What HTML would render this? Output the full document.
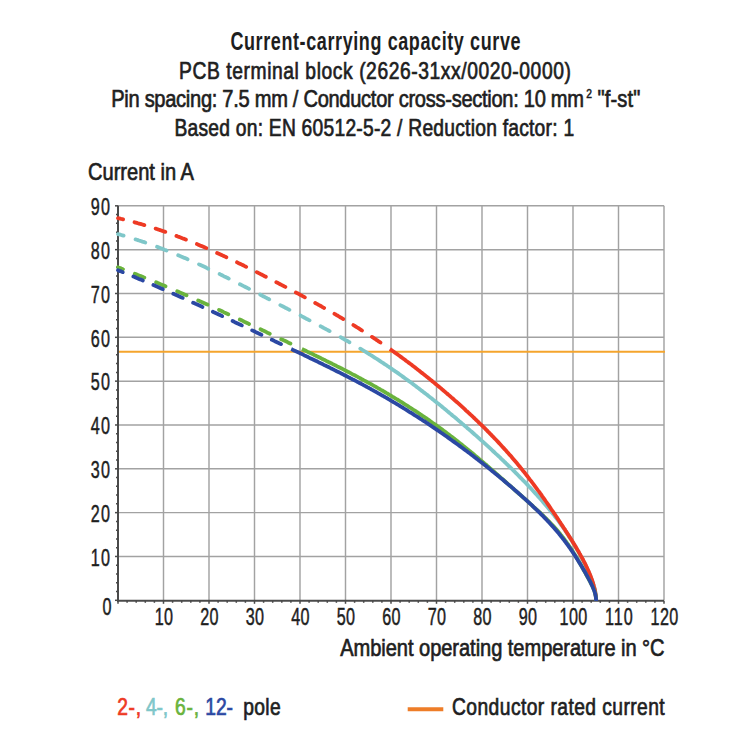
<!DOCTYPE html>
<html><head><meta charset="utf-8"><style>
html,body{margin:0;padding:0;background:#fff;width:750px;height:750px;overflow:hidden}
svg{display:block;font-family:"Liberation Sans",sans-serif}
</style></head><body>
<svg width="750" height="750" viewBox="0 0 750 750">
<rect width="750" height="750" fill="#fff"/>
<line x1="163.50" y1="205.83" x2="163.50" y2="600.30" stroke="#a2a2a2" stroke-width="1.45"/>
<line x1="209.00" y1="205.83" x2="209.00" y2="600.30" stroke="#a2a2a2" stroke-width="1.45"/>
<line x1="254.50" y1="205.83" x2="254.50" y2="600.30" stroke="#a2a2a2" stroke-width="1.45"/>
<line x1="300.00" y1="205.83" x2="300.00" y2="600.30" stroke="#a2a2a2" stroke-width="1.45"/>
<line x1="345.50" y1="205.83" x2="345.50" y2="600.30" stroke="#a2a2a2" stroke-width="1.45"/>
<line x1="391.00" y1="205.83" x2="391.00" y2="600.30" stroke="#a2a2a2" stroke-width="1.45"/>
<line x1="436.50" y1="205.83" x2="436.50" y2="600.30" stroke="#a2a2a2" stroke-width="1.45"/>
<line x1="482.00" y1="205.83" x2="482.00" y2="600.30" stroke="#a2a2a2" stroke-width="1.45"/>
<line x1="527.50" y1="205.83" x2="527.50" y2="600.30" stroke="#a2a2a2" stroke-width="1.45"/>
<line x1="573.00" y1="205.83" x2="573.00" y2="600.30" stroke="#a2a2a2" stroke-width="1.45"/>
<line x1="618.50" y1="205.83" x2="618.50" y2="600.30" stroke="#a2a2a2" stroke-width="1.45"/>
<line x1="664.00" y1="205.83" x2="664.00" y2="600.30" stroke="#a2a2a2" stroke-width="1.45"/>
<line x1="118.00" y1="556.47" x2="664.00" y2="556.47" stroke="#a2a2a2" stroke-width="1.45"/>
<line x1="118.00" y1="512.64" x2="664.00" y2="512.64" stroke="#a2a2a2" stroke-width="1.45"/>
<line x1="118.00" y1="468.81" x2="664.00" y2="468.81" stroke="#a2a2a2" stroke-width="1.45"/>
<line x1="118.00" y1="424.98" x2="664.00" y2="424.98" stroke="#a2a2a2" stroke-width="1.45"/>
<line x1="118.00" y1="381.15" x2="664.00" y2="381.15" stroke="#a2a2a2" stroke-width="1.45"/>
<line x1="118.00" y1="337.32" x2="664.00" y2="337.32" stroke="#a2a2a2" stroke-width="1.45"/>
<line x1="118.00" y1="293.49" x2="664.00" y2="293.49" stroke="#a2a2a2" stroke-width="1.45"/>
<line x1="118.00" y1="249.66" x2="664.00" y2="249.66" stroke="#a2a2a2" stroke-width="1.45"/>
<line x1="118.00" y1="205.83" x2="664.00" y2="205.83" stroke="#a2a2a2" stroke-width="1.45"/>
<line x1="118.00" y1="351.7" x2="665.00" y2="351.7" stroke="#f5a52c" stroke-width="2.1"/>
<line x1="118.00" y1="205.83" x2="118.00" y2="601.80" stroke="#4a4a4a" stroke-width="2"/>
<line x1="117.00" y1="600.80" x2="664.00" y2="600.80" stroke="#4a4a4a" stroke-width="2"/>
<line x1="115.00" y1="600.30" x2="118.00" y2="600.30" stroke="#4a4a4a" stroke-width="1.5"/>
<line x1="116.00" y1="591.53" x2="118.00" y2="591.53" stroke="#4a4a4a" stroke-width="1.5"/>
<line x1="116.00" y1="582.77" x2="118.00" y2="582.77" stroke="#4a4a4a" stroke-width="1.5"/>
<line x1="116.00" y1="574.00" x2="118.00" y2="574.00" stroke="#4a4a4a" stroke-width="1.5"/>
<line x1="116.00" y1="565.24" x2="118.00" y2="565.24" stroke="#4a4a4a" stroke-width="1.5"/>
<line x1="115.00" y1="556.47" x2="118.00" y2="556.47" stroke="#4a4a4a" stroke-width="1.5"/>
<line x1="116.00" y1="547.70" x2="118.00" y2="547.70" stroke="#4a4a4a" stroke-width="1.5"/>
<line x1="116.00" y1="538.94" x2="118.00" y2="538.94" stroke="#4a4a4a" stroke-width="1.5"/>
<line x1="116.00" y1="530.17" x2="118.00" y2="530.17" stroke="#4a4a4a" stroke-width="1.5"/>
<line x1="116.00" y1="521.41" x2="118.00" y2="521.41" stroke="#4a4a4a" stroke-width="1.5"/>
<line x1="115.00" y1="512.64" x2="118.00" y2="512.64" stroke="#4a4a4a" stroke-width="1.5"/>
<line x1="116.00" y1="503.87" x2="118.00" y2="503.87" stroke="#4a4a4a" stroke-width="1.5"/>
<line x1="116.00" y1="495.11" x2="118.00" y2="495.11" stroke="#4a4a4a" stroke-width="1.5"/>
<line x1="116.00" y1="486.34" x2="118.00" y2="486.34" stroke="#4a4a4a" stroke-width="1.5"/>
<line x1="116.00" y1="477.58" x2="118.00" y2="477.58" stroke="#4a4a4a" stroke-width="1.5"/>
<line x1="115.00" y1="468.81" x2="118.00" y2="468.81" stroke="#4a4a4a" stroke-width="1.5"/>
<line x1="116.00" y1="460.04" x2="118.00" y2="460.04" stroke="#4a4a4a" stroke-width="1.5"/>
<line x1="116.00" y1="451.28" x2="118.00" y2="451.28" stroke="#4a4a4a" stroke-width="1.5"/>
<line x1="116.00" y1="442.51" x2="118.00" y2="442.51" stroke="#4a4a4a" stroke-width="1.5"/>
<line x1="116.00" y1="433.75" x2="118.00" y2="433.75" stroke="#4a4a4a" stroke-width="1.5"/>
<line x1="115.00" y1="424.98" x2="118.00" y2="424.98" stroke="#4a4a4a" stroke-width="1.5"/>
<line x1="116.00" y1="416.21" x2="118.00" y2="416.21" stroke="#4a4a4a" stroke-width="1.5"/>
<line x1="116.00" y1="407.45" x2="118.00" y2="407.45" stroke="#4a4a4a" stroke-width="1.5"/>
<line x1="116.00" y1="398.68" x2="118.00" y2="398.68" stroke="#4a4a4a" stroke-width="1.5"/>
<line x1="116.00" y1="389.92" x2="118.00" y2="389.92" stroke="#4a4a4a" stroke-width="1.5"/>
<line x1="115.00" y1="381.15" x2="118.00" y2="381.15" stroke="#4a4a4a" stroke-width="1.5"/>
<line x1="116.00" y1="372.38" x2="118.00" y2="372.38" stroke="#4a4a4a" stroke-width="1.5"/>
<line x1="116.00" y1="363.62" x2="118.00" y2="363.62" stroke="#4a4a4a" stroke-width="1.5"/>
<line x1="116.00" y1="354.85" x2="118.00" y2="354.85" stroke="#4a4a4a" stroke-width="1.5"/>
<line x1="116.00" y1="346.09" x2="118.00" y2="346.09" stroke="#4a4a4a" stroke-width="1.5"/>
<line x1="115.00" y1="337.32" x2="118.00" y2="337.32" stroke="#4a4a4a" stroke-width="1.5"/>
<line x1="116.00" y1="328.55" x2="118.00" y2="328.55" stroke="#4a4a4a" stroke-width="1.5"/>
<line x1="116.00" y1="319.79" x2="118.00" y2="319.79" stroke="#4a4a4a" stroke-width="1.5"/>
<line x1="116.00" y1="311.02" x2="118.00" y2="311.02" stroke="#4a4a4a" stroke-width="1.5"/>
<line x1="116.00" y1="302.26" x2="118.00" y2="302.26" stroke="#4a4a4a" stroke-width="1.5"/>
<line x1="115.00" y1="293.49" x2="118.00" y2="293.49" stroke="#4a4a4a" stroke-width="1.5"/>
<line x1="116.00" y1="284.72" x2="118.00" y2="284.72" stroke="#4a4a4a" stroke-width="1.5"/>
<line x1="116.00" y1="275.96" x2="118.00" y2="275.96" stroke="#4a4a4a" stroke-width="1.5"/>
<line x1="116.00" y1="267.19" x2="118.00" y2="267.19" stroke="#4a4a4a" stroke-width="1.5"/>
<line x1="116.00" y1="258.43" x2="118.00" y2="258.43" stroke="#4a4a4a" stroke-width="1.5"/>
<line x1="115.00" y1="249.66" x2="118.00" y2="249.66" stroke="#4a4a4a" stroke-width="1.5"/>
<line x1="116.00" y1="240.89" x2="118.00" y2="240.89" stroke="#4a4a4a" stroke-width="1.5"/>
<line x1="116.00" y1="232.13" x2="118.00" y2="232.13" stroke="#4a4a4a" stroke-width="1.5"/>
<line x1="116.00" y1="223.36" x2="118.00" y2="223.36" stroke="#4a4a4a" stroke-width="1.5"/>
<line x1="116.00" y1="214.60" x2="118.00" y2="214.60" stroke="#4a4a4a" stroke-width="1.5"/>
<line x1="115.00" y1="205.83" x2="118.00" y2="205.83" stroke="#4a4a4a" stroke-width="1.5"/>
<line x1="118.00" y1="600.80" x2="118.00" y2="603.80" stroke="#4a4a4a" stroke-width="1.5"/>
<line x1="127.10" y1="600.80" x2="127.10" y2="602.80" stroke="#4a4a4a" stroke-width="1.5"/>
<line x1="136.20" y1="600.80" x2="136.20" y2="602.80" stroke="#4a4a4a" stroke-width="1.5"/>
<line x1="145.30" y1="600.80" x2="145.30" y2="602.80" stroke="#4a4a4a" stroke-width="1.5"/>
<line x1="154.40" y1="600.80" x2="154.40" y2="602.80" stroke="#4a4a4a" stroke-width="1.5"/>
<line x1="163.50" y1="600.80" x2="163.50" y2="603.80" stroke="#4a4a4a" stroke-width="1.5"/>
<line x1="172.60" y1="600.80" x2="172.60" y2="602.80" stroke="#4a4a4a" stroke-width="1.5"/>
<line x1="181.70" y1="600.80" x2="181.70" y2="602.80" stroke="#4a4a4a" stroke-width="1.5"/>
<line x1="190.80" y1="600.80" x2="190.80" y2="602.80" stroke="#4a4a4a" stroke-width="1.5"/>
<line x1="199.90" y1="600.80" x2="199.90" y2="602.80" stroke="#4a4a4a" stroke-width="1.5"/>
<line x1="209.00" y1="600.80" x2="209.00" y2="603.80" stroke="#4a4a4a" stroke-width="1.5"/>
<line x1="218.10" y1="600.80" x2="218.10" y2="602.80" stroke="#4a4a4a" stroke-width="1.5"/>
<line x1="227.20" y1="600.80" x2="227.20" y2="602.80" stroke="#4a4a4a" stroke-width="1.5"/>
<line x1="236.30" y1="600.80" x2="236.30" y2="602.80" stroke="#4a4a4a" stroke-width="1.5"/>
<line x1="245.40" y1="600.80" x2="245.40" y2="602.80" stroke="#4a4a4a" stroke-width="1.5"/>
<line x1="254.50" y1="600.80" x2="254.50" y2="603.80" stroke="#4a4a4a" stroke-width="1.5"/>
<line x1="263.60" y1="600.80" x2="263.60" y2="602.80" stroke="#4a4a4a" stroke-width="1.5"/>
<line x1="272.70" y1="600.80" x2="272.70" y2="602.80" stroke="#4a4a4a" stroke-width="1.5"/>
<line x1="281.80" y1="600.80" x2="281.80" y2="602.80" stroke="#4a4a4a" stroke-width="1.5"/>
<line x1="290.90" y1="600.80" x2="290.90" y2="602.80" stroke="#4a4a4a" stroke-width="1.5"/>
<line x1="300.00" y1="600.80" x2="300.00" y2="603.80" stroke="#4a4a4a" stroke-width="1.5"/>
<line x1="309.10" y1="600.80" x2="309.10" y2="602.80" stroke="#4a4a4a" stroke-width="1.5"/>
<line x1="318.20" y1="600.80" x2="318.20" y2="602.80" stroke="#4a4a4a" stroke-width="1.5"/>
<line x1="327.30" y1="600.80" x2="327.30" y2="602.80" stroke="#4a4a4a" stroke-width="1.5"/>
<line x1="336.40" y1="600.80" x2="336.40" y2="602.80" stroke="#4a4a4a" stroke-width="1.5"/>
<line x1="345.50" y1="600.80" x2="345.50" y2="603.80" stroke="#4a4a4a" stroke-width="1.5"/>
<line x1="354.60" y1="600.80" x2="354.60" y2="602.80" stroke="#4a4a4a" stroke-width="1.5"/>
<line x1="363.70" y1="600.80" x2="363.70" y2="602.80" stroke="#4a4a4a" stroke-width="1.5"/>
<line x1="372.80" y1="600.80" x2="372.80" y2="602.80" stroke="#4a4a4a" stroke-width="1.5"/>
<line x1="381.90" y1="600.80" x2="381.90" y2="602.80" stroke="#4a4a4a" stroke-width="1.5"/>
<line x1="391.00" y1="600.80" x2="391.00" y2="603.80" stroke="#4a4a4a" stroke-width="1.5"/>
<line x1="400.10" y1="600.80" x2="400.10" y2="602.80" stroke="#4a4a4a" stroke-width="1.5"/>
<line x1="409.20" y1="600.80" x2="409.20" y2="602.80" stroke="#4a4a4a" stroke-width="1.5"/>
<line x1="418.30" y1="600.80" x2="418.30" y2="602.80" stroke="#4a4a4a" stroke-width="1.5"/>
<line x1="427.40" y1="600.80" x2="427.40" y2="602.80" stroke="#4a4a4a" stroke-width="1.5"/>
<line x1="436.50" y1="600.80" x2="436.50" y2="603.80" stroke="#4a4a4a" stroke-width="1.5"/>
<line x1="445.60" y1="600.80" x2="445.60" y2="602.80" stroke="#4a4a4a" stroke-width="1.5"/>
<line x1="454.70" y1="600.80" x2="454.70" y2="602.80" stroke="#4a4a4a" stroke-width="1.5"/>
<line x1="463.80" y1="600.80" x2="463.80" y2="602.80" stroke="#4a4a4a" stroke-width="1.5"/>
<line x1="472.90" y1="600.80" x2="472.90" y2="602.80" stroke="#4a4a4a" stroke-width="1.5"/>
<line x1="482.00" y1="600.80" x2="482.00" y2="603.80" stroke="#4a4a4a" stroke-width="1.5"/>
<line x1="491.10" y1="600.80" x2="491.10" y2="602.80" stroke="#4a4a4a" stroke-width="1.5"/>
<line x1="500.20" y1="600.80" x2="500.20" y2="602.80" stroke="#4a4a4a" stroke-width="1.5"/>
<line x1="509.30" y1="600.80" x2="509.30" y2="602.80" stroke="#4a4a4a" stroke-width="1.5"/>
<line x1="518.40" y1="600.80" x2="518.40" y2="602.80" stroke="#4a4a4a" stroke-width="1.5"/>
<line x1="527.50" y1="600.80" x2="527.50" y2="603.80" stroke="#4a4a4a" stroke-width="1.5"/>
<line x1="536.60" y1="600.80" x2="536.60" y2="602.80" stroke="#4a4a4a" stroke-width="1.5"/>
<line x1="545.70" y1="600.80" x2="545.70" y2="602.80" stroke="#4a4a4a" stroke-width="1.5"/>
<line x1="554.80" y1="600.80" x2="554.80" y2="602.80" stroke="#4a4a4a" stroke-width="1.5"/>
<line x1="563.90" y1="600.80" x2="563.90" y2="602.80" stroke="#4a4a4a" stroke-width="1.5"/>
<line x1="573.00" y1="600.80" x2="573.00" y2="603.80" stroke="#4a4a4a" stroke-width="1.5"/>
<line x1="582.10" y1="600.80" x2="582.10" y2="602.80" stroke="#4a4a4a" stroke-width="1.5"/>
<line x1="591.20" y1="600.80" x2="591.20" y2="602.80" stroke="#4a4a4a" stroke-width="1.5"/>
<line x1="600.30" y1="600.80" x2="600.30" y2="602.80" stroke="#4a4a4a" stroke-width="1.5"/>
<line x1="609.40" y1="600.80" x2="609.40" y2="602.80" stroke="#4a4a4a" stroke-width="1.5"/>
<line x1="618.50" y1="600.80" x2="618.50" y2="603.80" stroke="#4a4a4a" stroke-width="1.5"/>
<line x1="627.60" y1="600.80" x2="627.60" y2="602.80" stroke="#4a4a4a" stroke-width="1.5"/>
<line x1="636.70" y1="600.80" x2="636.70" y2="602.80" stroke="#4a4a4a" stroke-width="1.5"/>
<line x1="645.80" y1="600.80" x2="645.80" y2="602.80" stroke="#4a4a4a" stroke-width="1.5"/>
<line x1="654.90" y1="600.80" x2="654.90" y2="602.80" stroke="#4a4a4a" stroke-width="1.5"/>
<line x1="664.00" y1="600.80" x2="664.00" y2="603.80" stroke="#4a4a4a" stroke-width="1.5"/>
<path d="M118.0,234.1 L119.1,234.4 L120.2,234.7 L121.3,235.0 L122.4,235.3 L123.5,235.6 L124.6,236.0 L125.8,236.3 L126.9,236.6 L128.0,236.9 L129.1,237.3 L130.2,237.6 L131.3,238.0 L132.4,238.3 L133.5,238.7 L134.6,239.0 L135.7,239.4 L136.8,239.7 L137.9,240.1 L139.0,240.5 L140.2,240.8 L141.3,241.2 L142.4,241.6 L143.5,241.9 L144.6,242.3 L145.7,242.7 L146.8,243.1 L147.9,243.5 L149.0,243.9 L150.1,244.3 L151.2,244.7 L152.3,245.1 L153.4,245.5 L154.6,245.9 L155.7,246.3 L156.8,246.7 L157.9,247.1 L159.0,247.5 L160.1,247.9 L161.2,248.4 L162.3,248.8 L163.4,249.2 L164.5,249.7 L165.6,250.1 L166.7,250.5 L167.8,251.0 L169.0,251.4 L170.1,251.9 L171.2,252.3 L172.3,252.7 L173.4,253.2 L174.5,253.7 L175.6,254.1 L176.7,254.6 L177.8,255.0 L178.9,255.5 L180.0,256.0 L181.1,256.4 L182.3,256.9 L183.4,257.4 L184.5,257.9 L185.6,258.3 L186.7,258.8 L187.8,259.3 L188.9,259.8 L190.0,260.3 L191.1,260.8 L192.2,261.3 L193.3,261.8 L194.4,262.3 L195.5,262.8 L196.7,263.3 L197.8,263.8 L198.9,264.3 L200.0,264.8 L201.1,265.3 L202.2,265.8 L203.3,266.3 L204.4,266.8 L205.5,267.3 L206.6,267.9 L207.7,268.4 L208.8,268.9 L209.9,269.4 L211.1,270.0 L212.2,270.5 L213.3,271.0 L214.4,271.5 L215.5,272.1 L216.6,272.6 L217.7,273.1 L218.8,273.7 L219.9,274.2 L221.0,274.8 L222.1,275.3 L223.2,275.9 L224.3,276.4 L225.5,276.9 L226.6,277.5 L227.7,278.0 L228.8,278.6 L229.9,279.1 L231.0,279.7 L232.1,280.3 L233.2,280.8 L234.3,281.4 L235.4,281.9 L236.5,282.5 L237.6,283.0 L238.7,283.6 L239.9,284.2 L241.0,284.7 L242.1,285.3 L243.2,285.9 L244.3,286.4 L245.4,287.0 L246.5,287.6 L247.6,288.1 L248.7,288.7 L249.8,289.3 L250.9,289.8 L252.0,290.4 L253.1,291.0 L254.3,291.6 L255.4,292.1 L256.5,292.7 L257.6,293.3 L258.7,293.9 L259.8,294.4 L260.9,295.0 L262.0,295.6 L263.1,296.2 L264.2,296.7 L265.3,297.3 L266.4,297.9 L267.5,298.5 L268.7,299.0 L269.8,299.6 L270.9,300.2 L272.0,300.8 L273.1,301.3 L274.2,301.9 L275.3,302.5 L276.4,303.1 L277.5,303.6 L278.6,304.2 L279.7,304.8 L280.8,305.4 L281.9,305.9 L283.1,306.5 L284.2,307.1 L285.3,307.7 L286.4,308.2 L287.5,308.8 L288.6,309.4 L289.7,310.0 L290.8,310.5 L291.9,311.1 L293.0,311.7 L294.1,312.3 L295.2,312.9 L296.4,313.4 L297.5,314.0 L298.6,314.6 L299.7,315.2 L300.8,315.7 L301.9,316.3 L303.0,316.9 L304.1,317.5 L305.2,318.1 L306.3,318.7 L307.4,319.2 L308.5,319.8 L309.6,320.4 L310.8,321.0 L311.9,321.6 L313.0,322.2 L314.1,322.8 L315.2,323.3 L316.3,323.9 L317.4,324.5 L318.5,325.1 L319.6,325.7 L320.7,326.3 L321.8,326.9 L322.9,327.5 L324.0,328.1 L325.2,328.7 L326.3,329.3 L327.4,329.9 L328.5,330.5 L329.6,331.1 L330.7,331.7 L331.8,332.3 L332.9,332.9 L334.0,333.5 L335.1,334.2 L336.2,334.8 L337.3,335.4 L338.4,336.0 L339.6,336.6 L340.7,337.2 L341.8,337.9 L342.9,338.5 L344.0,339.1 L345.1,339.8 L346.2,340.4 L347.3,341.0 L348.4,341.7 L349.5,342.3 L350.6,342.9 L351.7,343.6 L352.8,344.2 L354.0,344.9 L355.1,345.5 L356.2,346.2 L357.3,346.8 L358.4,347.5 L359.5,348.2 L360.6,348.8 L360.9,349.0" fill="none" stroke="#7fc7c9" stroke-width="3.8" stroke-linecap="round" stroke-dasharray="10.2 12.56" stroke-dashoffset="4.41"/>
<path d="M360.9,349.0 L361.7,349.5 L362.8,350.2 L363.9,350.8 L365.0,351.5 L366.1,352.2 L367.2,352.9 L368.4,353.6 L369.5,354.3 L370.6,355.0 L371.7,355.7 L372.8,356.4 L373.9,357.1 L375.0,357.8 L376.1,358.5 L377.2,359.2 L378.3,359.9 L379.4,360.6 L380.5,361.4 L381.6,362.1 L382.8,362.8 L383.9,363.6 L385.0,364.3 L386.1,365.0 L387.2,365.8 L388.3,366.5 L389.4,367.3 L390.5,368.0 L391.6,368.8 L392.7,369.6 L393.8,370.3 L394.9,371.1 L396.1,371.9 L397.2,372.6 L398.3,373.4 L399.4,374.2 L400.5,375.0 L401.6,375.8 L402.7,376.6 L403.8,377.4 L404.9,378.2 L406.0,379.0 L407.1,379.8 L408.2,380.6 L409.3,381.4 L410.5,382.2 L411.6,383.0 L412.7,383.9 L413.8,384.7 L414.9,385.5 L416.0,386.4 L417.1,387.2 L418.2,388.0 L419.3,388.9 L420.4,389.7 L421.5,390.6 L422.6,391.4 L423.7,392.3 L424.9,393.1 L426.0,394.0 L427.1,394.8 L428.2,395.7 L429.3,396.6 L430.4,397.5 L431.5,398.3 L432.6,399.2 L433.7,400.1 L434.8,401.0 L435.9,401.9 L437.0,402.7 L438.1,403.6 L439.3,404.5 L440.4,405.4 L441.5,406.3 L442.6,407.2 L443.7,408.1 L444.8,409.0 L445.9,409.9 L447.0,410.9 L448.1,411.8 L449.2,412.7 L450.3,413.6 L451.4,414.5 L452.5,415.5 L453.7,416.4 L454.8,417.3 L455.9,418.2 L457.0,419.2 L458.1,420.1 L459.2,421.1 L460.3,422.0 L461.4,422.9 L462.5,423.9 L463.6,424.8 L464.7,425.8 L465.8,426.7 L466.9,427.7 L468.1,428.7 L469.2,429.6 L470.3,430.6 L471.4,431.5 L472.5,432.5 L473.6,433.5 L474.7,434.5 L475.8,435.4 L476.9,436.4 L478.0,437.4 L479.1,438.4 L480.2,439.4 L481.3,440.4 L482.5,441.4 L483.6,442.4 L484.7,443.4 L485.8,444.4 L486.9,445.4 L488.0,446.4 L489.1,447.4 L490.2,448.4 L491.3,449.4 L492.4,450.5 L493.5,451.5 L494.6,452.5 L495.7,453.6 L496.9,454.6 L498.0,455.6 L499.1,456.7 L500.2,457.7 L501.3,458.8 L502.4,459.8 L503.5,460.9 L504.6,462.0 L505.7,463.0 L506.8,464.1 L507.9,465.2 L509.0,466.3 L510.2,467.3 L511.3,468.4 L512.4,469.5 L513.5,470.6 L514.6,471.7 L515.7,472.8 L516.8,473.9 L517.9,475.0 L519.0,476.2 L520.1,477.3 L521.2,478.4 L522.3,479.5 L523.4,480.7 L524.6,481.8 L525.7,483.0 L526.8,484.1 L527.9,485.3 L529.0,486.5 L530.1,487.6 L531.2,488.8 L532.3,490.0 L533.4,491.2 L534.5,492.4 L535.6,493.6 L536.7,494.8 L537.8,496.1 L539.0,497.3 L540.1,498.6 L541.2,499.8 L542.3,501.1 L543.4,502.4 L544.5,503.7 L545.6,505.0 L546.7,506.3 L547.8,507.6 L548.9,508.9 L550.0,510.3 L551.1,511.6 L552.2,513.0 L553.4,514.4 L554.5,515.8 L555.6,517.3 L556.7,518.7 L557.8,520.2 L558.9,521.7 L560.0,523.2 L560.4,523.7 L560.7,524.2 L561.1,524.7 L561.4,525.2 L561.8,525.6 L562.1,526.1 L562.5,526.6 L562.8,527.1 L563.2,527.6 L563.5,528.1 L563.9,528.6 L564.2,529.1 L564.6,529.6 L564.9,530.1 L565.2,530.6 L565.6,531.1 L565.9,531.6 L566.2,532.1 L566.6,532.6 L566.9,533.0 L567.2,533.5 L567.5,534.0 L567.9,534.5 L568.2,535.0 L568.5,535.5 L568.8,536.0 L569.1,536.5 L569.4,537.0 L569.8,537.4 L570.1,537.9 L570.4,538.4 L570.7,538.9 L571.0,539.4 L571.3,539.9 L571.6,540.3 L571.9,540.8 L572.2,541.3 L572.5,541.8 L572.8,542.2 L573.1,542.7 L573.3,543.2 L573.6,543.7 L573.9,544.1 L574.2,544.6 L574.5,545.1 L574.8,545.6 L575.0,546.0 L575.3,546.5 L575.6,547.0 L575.9,547.4 L576.1,547.9 L576.4,548.4 L576.7,548.8 L576.9,549.3 L577.2,549.7 L577.5,550.2 L577.7,550.7 L578.0,551.1 L578.2,551.6 L578.5,552.0 L578.7,552.5 L579.0,552.9 L579.2,553.4 L579.5,553.8 L579.7,554.3 L580.0,554.7 L580.2,555.2 L580.5,555.6 L580.7,556.0 L580.9,556.5 L581.2,556.9 L581.4,557.4 L581.6,557.8 L581.9,558.2 L582.1,558.7 L582.3,559.1 L582.5,559.5 L582.8,559.9 L583.0,560.4 L583.2,560.8 L583.4,561.2 L583.6,561.6 L583.8,562.1 L584.0,562.5 L584.3,562.9 L584.5,563.3 L584.7,563.7 L584.9,564.1 L585.1,564.5 L585.3,564.9 L585.5,565.3 L585.7,565.7 L585.9,566.1 L586.0,566.5 L586.2,566.9 L586.4,567.3 L586.6,567.7 L586.8,568.1 L587.0,568.5 L587.2,568.9 L587.3,569.3 L587.5,569.7 L587.7,570.0 L587.9,570.4 L588.0,570.8 L588.2,571.2 L588.4,571.5 L588.6,571.9 L588.7,572.3 L588.9,572.6 L589.0,573.0 L589.2,573.4 L589.4,573.7 L589.5,574.1 L589.7,574.4 L589.8,574.8 L590.0,575.1 L590.1,575.5 L590.3,575.8 L590.4,576.2 L590.6,576.5 L590.7,576.9 L590.8,577.2 L591.0,577.6 L591.1,577.9 L591.2,578.3 L591.4,578.6 L591.5,578.9 L591.6,579.3 L591.8,579.6 L591.9,579.9 L592.0,580.3 L592.1,580.6 L592.2,580.9 L592.4,581.3 L592.5,581.6 L592.6,581.9 L592.7,582.2 L592.8,582.6 L592.9,582.9 L593.0,583.2 L593.1,583.5 L593.2,583.9 L593.3,584.2 L593.4,584.5 L593.5,584.8 L593.6,585.1 L593.7,585.4 L593.8,585.8 L593.9,586.1 L594.0,586.4 L594.1,586.7 L594.2,587.0 L594.3,587.3 L594.3,587.6 L594.4,587.9 L594.5,588.2 L594.6,588.5 L594.6,588.9 L594.7,589.2 L594.8,589.5 L594.9,589.8 L594.9,590.1 L595.0,590.4 L595.0,590.7 L595.1,591.0 L595.2,591.3 L595.2,591.6 L595.3,591.9 L595.3,592.2 L595.4,592.5 L595.4,592.8 L595.5,593.1 L595.5,593.4 L595.6,593.7 L595.6,594.0 L595.7,594.3 L595.7,594.6 L595.7,594.9 L595.8,595.2 L595.8,595.5 L595.8,595.8 L595.9,596.1 L595.9,596.4 L595.9,596.7 L595.9,597.0 L596.0,597.3 L596.0,597.6 L596.0,598.0 L596.0,598.3 L596.0,598.6 L596.1,598.9 L596.1,599.2 L596.1,599.5 L596.1,599.8 L596.1,600.1 L596.1,600.4 L596.1,600.7 L596.1,601.0" fill="none" stroke="#7fc7c9" stroke-width="3.8" stroke-linejoin="round"/>
<path d="M118.0,218.2 L119.1,218.4 L120.2,218.7 L121.3,219.0 L122.4,219.2 L123.5,219.5 L124.6,219.8 L125.8,220.0 L126.9,220.3 L128.0,220.6 L129.1,220.9 L130.2,221.2 L131.3,221.4 L132.4,221.7 L133.5,222.0 L134.6,222.3 L135.7,222.6 L136.8,222.9 L137.9,223.3 L139.0,223.6 L140.2,223.9 L141.3,224.2 L142.4,224.5 L143.5,224.8 L144.6,225.2 L145.7,225.5 L146.8,225.8 L147.9,226.2 L149.0,226.5 L150.1,226.9 L151.2,227.2 L152.3,227.6 L153.4,227.9 L154.6,228.3 L155.7,228.6 L156.8,229.0 L157.9,229.4 L159.0,229.7 L160.1,230.1 L161.2,230.5 L162.3,230.9 L163.4,231.2 L164.5,231.6 L165.6,232.0 L166.7,232.4 L167.8,232.8 L169.0,233.2 L170.1,233.6 L171.2,234.0 L172.3,234.4 L173.4,234.8 L174.5,235.2 L175.6,235.6 L176.7,236.0 L177.8,236.5 L178.9,236.9 L180.0,237.3 L181.1,237.7 L182.3,238.2 L183.4,238.6 L184.5,239.0 L185.6,239.5 L186.7,239.9 L187.8,240.3 L188.9,240.8 L190.0,241.2 L191.1,241.7 L192.2,242.1 L193.3,242.6 L194.4,243.1 L195.5,243.5 L196.7,244.0 L197.8,244.4 L198.9,244.9 L200.0,245.4 L201.1,245.9 L202.2,246.3 L203.3,246.8 L204.4,247.3 L205.5,247.8 L206.6,248.2 L207.7,248.7 L208.8,249.2 L209.9,249.7 L211.1,250.2 L212.2,250.7 L213.3,251.2 L214.4,251.7 L215.5,252.2 L216.6,252.7 L217.7,253.2 L218.8,253.7 L219.9,254.2 L221.0,254.7 L222.1,255.2 L223.2,255.8 L224.3,256.3 L225.5,256.8 L226.6,257.3 L227.7,257.8 L228.8,258.4 L229.9,258.9 L231.0,259.4 L232.1,259.9 L233.2,260.5 L234.3,261.0 L235.4,261.5 L236.5,262.1 L237.6,262.6 L238.7,263.2 L239.9,263.7 L241.0,264.2 L242.1,264.8 L243.2,265.3 L244.3,265.9 L245.4,266.4 L246.5,267.0 L247.6,267.5 L248.7,268.1 L249.8,268.6 L250.9,269.2 L252.0,269.8 L253.1,270.3 L254.3,270.9 L255.4,271.4 L256.5,272.0 L257.6,272.6 L258.7,273.1 L259.8,273.7 L260.9,274.3 L262.0,274.8 L263.1,275.4 L264.2,276.0 L265.3,276.5 L266.4,277.1 L267.5,277.7 L268.7,278.2 L269.8,278.8 L270.9,279.4 L272.0,280.0 L273.1,280.5 L274.2,281.1 L275.3,281.7 L276.4,282.3 L277.5,282.8 L278.6,283.4 L279.7,284.0 L280.8,284.6 L281.9,285.1 L283.1,285.7 L284.2,286.3 L285.3,286.9 L286.4,287.5 L287.5,288.1 L288.6,288.6 L289.7,289.2 L290.8,289.8 L291.9,290.4 L293.0,291.0 L294.1,291.6 L295.2,292.2 L296.4,292.8 L297.5,293.3 L298.6,293.9 L299.7,294.5 L300.8,295.1 L301.9,295.7 L303.0,296.3 L304.1,296.9 L305.2,297.5 L306.3,298.1 L307.4,298.7 L308.5,299.3 L309.6,299.9 L310.8,300.5 L311.9,301.1 L313.0,301.8 L314.1,302.4 L315.2,303.0 L316.3,303.6 L317.4,304.2 L318.5,304.8 L319.6,305.4 L320.7,306.0 L321.8,306.7 L322.9,307.3 L324.0,307.9 L325.2,308.5 L326.3,309.2 L327.4,309.8 L328.5,310.4 L329.6,311.1 L330.7,311.7 L331.8,312.3 L332.9,313.0 L334.0,313.6 L335.1,314.2 L336.2,314.9 L337.3,315.5 L338.4,316.2 L339.6,316.8 L340.7,317.5 L341.8,318.1 L342.9,318.8 L344.0,319.4 L345.1,320.1 L346.2,320.8 L347.3,321.4 L348.4,322.1 L349.5,322.8 L350.6,323.4 L351.7,324.1 L352.8,324.8 L354.0,325.4 L355.1,326.1 L356.2,326.8 L357.3,327.5 L358.4,328.2 L359.5,328.9 L360.6,329.6 L361.7,330.3 L362.8,331.0 L363.9,331.7 L365.0,332.4 L366.1,333.1 L367.2,333.8 L368.4,334.5 L369.5,335.2 L370.6,335.9 L371.7,336.7 L372.8,337.4 L373.9,338.1 L375.0,338.8 L376.1,339.6 L377.2,340.3 L378.3,341.1 L379.4,341.8 L380.5,342.6 L381.6,343.3 L382.8,344.1 L383.9,344.8 L385.0,345.6 L386.1,346.4 L387.2,347.1 L388.3,347.9 L389.4,348.7 L389.9,349.0" fill="none" stroke="#ee3a24" stroke-width="3.8" stroke-linecap="round" stroke-dasharray="10.2 11.85" stroke-dashoffset="5.00"/>
<path d="M389.9,349.0 L390.5,349.4 L391.6,350.2 L392.7,351.0 L393.8,351.8 L394.9,352.6 L396.1,353.4 L397.2,354.2 L398.3,355.0 L399.4,355.8 L400.5,356.6 L401.6,357.4 L402.7,358.2 L403.8,359.0 L404.9,359.8 L406.0,360.7 L407.1,361.5 L408.2,362.3 L409.3,363.2 L410.5,364.0 L411.6,364.8 L412.7,365.7 L413.8,366.5 L414.9,367.4 L416.0,368.2 L417.1,369.1 L418.2,370.0 L419.3,370.8 L420.4,371.7 L421.5,372.6 L422.6,373.4 L423.7,374.3 L424.9,375.2 L426.0,376.1 L427.1,377.0 L428.2,377.9 L429.3,378.7 L430.4,379.6 L431.5,380.5 L432.6,381.5 L433.7,382.4 L434.8,383.3 L435.9,384.2 L437.0,385.1 L438.1,386.0 L439.3,387.0 L440.4,387.9 L441.5,388.8 L442.6,389.8 L443.7,390.7 L444.8,391.6 L445.9,392.6 L447.0,393.5 L448.1,394.5 L449.2,395.4 L450.3,396.4 L451.4,397.4 L452.5,398.3 L453.7,399.3 L454.8,400.3 L455.9,401.3 L457.0,402.2 L458.1,403.2 L459.2,404.2 L460.3,405.2 L461.4,406.2 L462.5,407.2 L463.6,408.2 L464.7,409.2 L465.8,410.3 L466.9,411.3 L468.1,412.3 L469.2,413.3 L470.3,414.4 L471.4,415.4 L472.5,416.4 L473.6,417.5 L474.7,418.5 L475.8,419.6 L476.9,420.7 L478.0,421.7 L479.1,422.8 L480.2,423.9 L481.3,424.9 L482.5,426.0 L483.6,427.1 L484.7,428.2 L485.8,429.3 L486.9,430.4 L488.0,431.6 L489.1,432.7 L490.2,433.8 L491.3,434.9 L492.4,436.1 L493.5,437.2 L494.6,438.4 L495.7,439.5 L496.9,440.7 L498.0,441.9 L499.1,443.1 L500.2,444.3 L501.3,445.5 L502.4,446.7 L503.5,447.9 L504.6,449.1 L505.7,450.3 L506.8,451.6 L507.9,452.8 L509.0,454.1 L510.2,455.3 L511.3,456.6 L512.4,457.9 L513.5,459.2 L514.6,460.5 L515.7,461.8 L516.8,463.1 L517.9,464.4 L519.0,465.8 L520.1,467.1 L521.2,468.5 L522.3,469.9 L523.4,471.3 L524.6,472.6 L525.7,474.1 L526.8,475.5 L527.9,476.9 L529.0,478.3 L530.1,479.8 L531.2,481.2 L532.3,482.7 L533.4,484.1 L534.5,485.6 L535.6,487.1 L536.7,488.6 L537.8,490.1 L539.0,491.6 L540.1,493.2 L541.2,494.7 L542.3,496.3 L543.4,497.8 L544.5,499.4 L545.6,501.0 L546.7,502.5 L547.8,504.1 L548.9,505.7 L550.0,507.3 L551.1,509.0 L552.2,510.6 L553.4,512.2 L554.5,513.9 L555.6,515.5 L556.7,517.2 L557.8,518.8 L558.9,520.5 L560.0,522.2 L560.4,522.7 L560.7,523.2 L561.1,523.8 L561.4,524.3 L561.8,524.9 L562.1,525.4 L562.5,525.9 L562.8,526.5 L563.2,527.0 L563.5,527.5 L563.9,528.1 L564.2,528.6 L564.6,529.1 L564.9,529.6 L565.2,530.1 L565.6,530.7 L565.9,531.2 L566.2,531.7 L566.6,532.2 L566.9,532.7 L567.2,533.2 L567.5,533.7 L567.9,534.2 L568.2,534.7 L568.5,535.2 L568.8,535.7 L569.1,536.2 L569.4,536.7 L569.8,537.2 L570.1,537.7 L570.4,538.2 L570.7,538.7 L571.0,539.1 L571.3,539.6 L571.6,540.1 L571.9,540.6 L572.2,541.1 L572.5,541.5 L572.8,542.0 L573.1,542.5 L573.3,542.9 L573.6,543.4 L573.9,543.9 L574.2,544.3 L574.5,544.8 L574.8,545.3 L575.0,545.7 L575.3,546.2 L575.6,546.6 L575.9,547.1 L576.1,547.6 L576.4,548.0 L576.7,548.5 L576.9,548.9 L577.2,549.4 L577.5,549.8 L577.7,550.2 L578.0,550.7 L578.2,551.1 L578.5,551.6 L578.7,552.0 L579.0,552.4 L579.2,552.9 L579.5,553.3 L579.7,553.7 L580.0,554.2 L580.2,554.6 L580.5,555.0 L580.7,555.5 L580.9,555.9 L581.2,556.3 L581.4,556.7 L581.6,557.2 L581.9,557.6 L582.1,558.0 L582.3,558.4 L582.5,558.8 L582.8,559.2 L583.0,559.7 L583.2,560.1 L583.4,560.5 L583.6,560.9 L583.8,561.3 L584.0,561.7 L584.3,562.1 L584.5,562.5 L584.7,562.9 L584.9,563.3 L585.1,563.7 L585.3,564.1 L585.5,564.5 L585.7,564.9 L585.9,565.3 L586.0,565.7 L586.2,566.1 L586.4,566.5 L586.6,566.9 L586.8,567.3 L587.0,567.7 L587.2,568.1 L587.3,568.5 L587.5,568.9 L587.7,569.3 L587.9,569.6 L588.0,570.0 L588.2,570.4 L588.4,570.8 L588.6,571.2 L588.7,571.6 L588.9,571.9 L589.0,572.3 L589.2,572.7 L589.4,573.1 L589.5,573.5 L589.7,573.8 L589.8,574.2 L590.0,574.6 L590.1,575.0 L590.3,575.3 L590.4,575.7 L590.6,576.1 L590.7,576.4 L590.8,576.8 L591.0,577.2 L591.1,577.5 L591.2,577.9 L591.4,578.3 L591.5,578.6 L591.6,579.0 L591.8,579.3 L591.9,579.7 L592.0,580.0 L592.1,580.4 L592.2,580.8 L592.4,581.1 L592.5,581.5 L592.6,581.8 L592.7,582.2 L592.8,582.5 L592.9,582.9 L593.0,583.2 L593.1,583.5 L593.2,583.9 L593.3,584.2 L593.4,584.6 L593.5,584.9 L593.6,585.2 L593.7,585.6 L593.8,585.9 L593.9,586.3 L594.0,586.6 L594.1,586.9 L594.2,587.3 L594.3,587.6 L594.3,587.9 L594.4,588.2 L594.5,588.6 L594.6,588.9 L594.6,589.2 L594.7,589.5 L594.8,589.9 L594.9,590.2 L594.9,590.5 L595.0,590.8 L595.0,591.1 L595.1,591.4 L595.2,591.7 L595.2,592.1 L595.3,592.4 L595.3,592.7 L595.4,593.0 L595.4,593.3 L595.5,593.6 L595.5,593.9 L595.6,594.2 L595.6,594.5 L595.7,594.8 L595.7,595.1 L595.7,595.4 L595.8,595.7 L595.8,596.0 L595.8,596.3 L595.9,596.6 L595.9,596.8 L595.9,597.1 L595.9,597.4 L596.0,597.7 L596.0,598.0 L596.0,598.3 L596.0,598.5 L596.0,598.8 L596.1,599.1 L596.1,599.4 L596.1,599.7 L596.1,599.9 L596.1,600.2 L596.1,600.5 L596.1,600.7 L596.1,601.0" fill="none" stroke="#ee3a24" stroke-width="3.8" stroke-linejoin="round"/>
<path d="M118.0,267.3 L119.1,267.7 L120.2,268.1 L121.3,268.6 L122.4,269.0 L123.5,269.4 L124.6,269.8 L125.8,270.2 L126.9,270.7 L128.0,271.1 L129.1,271.5 L130.2,272.0 L131.3,272.4 L132.4,272.8 L133.5,273.2 L134.6,273.7 L135.7,274.1 L136.8,274.5 L137.9,275.0 L139.0,275.4 L140.2,275.9 L141.3,276.3 L142.4,276.7 L143.5,277.2 L144.6,277.6 L145.7,278.1 L146.8,278.5 L147.9,279.0 L149.0,279.4 L150.1,279.9 L151.2,280.3 L152.3,280.8 L153.4,281.2 L154.6,281.7 L155.7,282.1 L156.8,282.6 L157.9,283.1 L159.0,283.5 L160.1,284.0 L161.2,284.4 L162.3,284.9 L163.4,285.4 L164.5,285.8 L165.6,286.3 L166.7,286.8 L167.8,287.2 L169.0,287.7 L170.1,288.2 L171.2,288.6 L172.3,289.1 L173.4,289.6 L174.5,290.1 L175.6,290.5 L176.7,291.0 L177.8,291.5 L178.9,292.0 L180.0,292.5 L181.1,292.9 L182.3,293.4 L183.4,293.9 L184.5,294.4 L185.6,294.9 L186.7,295.4 L187.8,295.8 L188.9,296.3 L190.0,296.8 L191.1,297.3 L192.2,297.8 L193.3,298.3 L194.4,298.8 L195.5,299.3 L196.7,299.8 L197.8,300.3 L198.9,300.8 L200.0,301.3 L201.1,301.7 L202.2,302.2 L203.3,302.7 L204.4,303.2 L205.5,303.7 L206.6,304.2 L207.7,304.7 L208.8,305.3 L209.9,305.8 L211.1,306.3 L212.2,306.8 L213.3,307.3 L214.4,307.8 L215.5,308.3 L216.6,308.8 L217.7,309.3 L218.8,309.8 L219.9,310.3 L221.0,310.8 L222.1,311.3 L223.2,311.9 L224.3,312.4 L225.5,312.9 L226.6,313.4 L227.7,313.9 L228.8,314.4 L229.9,314.9 L231.0,315.4 L232.1,316.0 L233.2,316.5 L234.3,317.0 L235.4,317.5 L236.5,318.0 L237.6,318.6 L238.7,319.1 L239.9,319.6 L241.0,320.1 L242.1,320.6 L243.2,321.1 L244.3,321.7 L245.4,322.2 L246.5,322.7 L247.6,323.2 L248.7,323.8 L249.8,324.3 L250.9,324.8 L252.0,325.3 L253.1,325.8 L254.3,326.4 L255.4,326.9 L256.5,327.4 L257.6,327.9 L258.7,328.5 L259.8,329.0 L260.9,329.5 L262.0,330.0 L263.1,330.6 L264.2,331.1 L265.3,331.6 L266.4,332.1 L267.5,332.7 L268.7,333.2 L269.8,333.7 L270.9,334.2 L272.0,334.8 L273.1,335.3 L274.2,335.8 L275.3,336.4 L276.4,336.9 L277.5,337.4 L278.6,337.9 L279.7,338.5 L280.8,339.0 L281.9,339.5 L283.1,340.0 L284.2,340.6 L285.3,341.1 L286.4,341.6 L287.5,342.1 L288.6,342.7 L289.7,343.2 L290.8,343.7 L291.9,344.2 L293.0,344.8 L294.1,345.3 L295.2,345.8 L296.4,346.4 L297.5,346.9 L298.6,347.4 L299.7,347.9 L300.8,348.5 L301.9,349.0" fill="none" stroke="#6ab33d" stroke-width="3.8" stroke-linecap="round" stroke-dasharray="10.2 12.72" stroke-dashoffset="4.86"/>
<path d="M301.9,349.0 L301.9,349.0 L303.0,349.5 L304.1,350.1 L305.2,350.6 L306.3,351.1 L307.4,351.7 L308.5,352.2 L309.6,352.7 L310.8,353.3 L311.9,353.8 L313.0,354.3 L314.1,354.9 L315.2,355.4 L316.3,356.0 L317.4,356.5 L318.5,357.0 L319.6,357.6 L320.7,358.1 L321.8,358.7 L322.9,359.2 L324.0,359.8 L325.2,360.3 L326.3,360.9 L327.4,361.4 L328.5,362.0 L329.6,362.5 L330.7,363.1 L331.8,363.6 L332.9,364.2 L334.0,364.7 L335.1,365.3 L336.2,365.8 L337.3,366.4 L338.4,366.9 L339.6,367.5 L340.7,368.1 L341.8,368.6 L342.9,369.2 L344.0,369.8 L345.1,370.3 L346.2,370.9 L347.3,371.5 L348.4,372.1 L349.5,372.6 L350.6,373.2 L351.7,373.8 L352.8,374.4 L354.0,374.9 L355.1,375.5 L356.2,376.1 L357.3,376.7 L358.4,377.3 L359.5,377.9 L360.6,378.5 L361.7,379.1 L362.8,379.7 L363.9,380.3 L365.0,380.9 L366.1,381.5 L367.2,382.1 L368.4,382.7 L369.5,383.3 L370.6,383.9 L371.7,384.5 L372.8,385.2 L373.9,385.8 L375.0,386.4 L376.1,387.0 L377.2,387.7 L378.3,388.3 L379.4,388.9 L380.5,389.6 L381.6,390.2 L382.8,390.8 L383.9,391.5 L385.0,392.1 L386.1,392.8 L387.2,393.4 L388.3,394.1 L389.4,394.8 L390.5,395.4 L391.6,396.1 L392.7,396.8 L393.8,397.4 L394.9,398.1 L396.1,398.8 L397.2,399.4 L398.3,400.1 L399.4,400.8 L400.5,401.5 L401.6,402.2 L402.7,402.9 L403.8,403.6 L404.9,404.3 L406.0,405.0 L407.1,405.7 L408.2,406.4 L409.3,407.1 L410.5,407.8 L411.6,408.5 L412.7,409.3 L413.8,410.0 L414.9,410.7 L416.0,411.4 L417.1,412.2 L418.2,412.9 L419.3,413.6 L420.4,414.4 L421.5,415.1 L422.6,415.9 L423.7,416.6 L424.9,417.4 L426.0,418.1 L427.1,418.9 L428.2,419.7 L429.3,420.4 L430.4,421.2 L431.5,422.0 L432.6,422.8 L433.7,423.5 L434.8,424.3 L435.9,425.1 L437.0,425.9 L438.1,426.7 L439.3,427.5 L440.4,428.3 L441.5,429.1 L442.6,429.9 L443.7,430.8 L444.8,431.6 L445.9,432.4 L447.0,433.2 L448.1,434.1 L449.2,434.9 L450.3,435.7 L451.4,436.6 L452.5,437.4 L453.7,438.3 L454.8,439.1 L455.9,440.0 L457.0,440.9 L458.1,441.7 L459.2,442.6 L460.3,443.5 L461.4,444.3 L462.5,445.2 L463.6,446.1 L464.7,447.0 L465.8,447.9 L466.9,448.8 L468.1,449.7 L469.2,450.6 L470.3,451.5 L471.4,452.4 L472.5,453.3 L473.6,454.2 L474.7,455.2 L475.8,456.1 L476.9,457.0 L478.0,457.9 L479.1,458.9 L480.2,459.8 L481.3,460.8 L482.5,461.7 L483.6,462.6 L484.7,463.6 L485.8,464.5 L486.9,465.5 L488.0,466.4 L489.1,467.4 L490.2,468.4 L491.3,469.3 L492.4,470.3 L493.5,471.2 L494.6,472.2 L495.7,473.2 L496.9,474.2 L498.0,475.1 L499.1,476.1 L500.2,477.1 L501.3,478.1 L502.4,479.0 L503.5,480.0 L504.6,481.0 L505.7,482.0 L506.8,483.0 L507.9,483.9 L509.0,484.9 L510.2,485.9 L511.3,486.9 L512.4,487.9 L513.5,488.8 L514.6,489.8 L515.7,490.8 L516.8,491.8 L517.9,492.8 L519.0,493.7 L520.1,494.7 L521.2,495.7 L522.3,496.7 L523.4,497.7 L524.6,498.6 L525.7,499.6 L526.8,500.6 L527.9,501.6 L529.0,502.6 L530.1,503.6 L531.2,504.6 L532.3,505.6 L533.4,506.6 L534.5,507.6 L535.6,508.6 L536.7,509.6 L537.8,510.6 L539.0,511.7 L540.1,512.7 L541.2,513.8 L542.3,514.8 L543.4,515.9 L544.5,517.0 L545.6,518.1 L546.7,519.2 L547.8,520.3 L548.9,521.4 L550.0,522.5 L551.1,523.7 L552.2,524.9 L553.4,526.1 L554.5,527.3 L555.6,528.5 L556.7,529.8 L557.8,531.1 L558.9,532.4 L560.0,533.7 L560.4,534.2 L560.7,534.6 L561.1,535.1 L561.4,535.5 L561.8,536.0 L562.1,536.4 L562.5,536.9 L562.8,537.3 L563.2,537.8 L563.5,538.2 L563.9,538.7 L564.2,539.2 L564.6,539.6 L564.9,540.1 L565.2,540.5 L565.6,541.0 L565.9,541.4 L566.2,541.9 L566.6,542.4 L566.9,542.8 L567.2,543.3 L567.5,543.7 L567.9,544.2 L568.2,544.6 L568.5,545.1 L568.8,545.6 L569.1,546.0 L569.4,546.5 L569.8,546.9 L570.1,547.4 L570.4,547.9 L570.7,548.3 L571.0,548.8 L571.3,549.2 L571.6,549.7 L571.9,550.1 L572.2,550.6 L572.5,551.0 L572.8,551.5 L573.1,552.0 L573.3,552.4 L573.6,552.9 L573.9,553.3 L574.2,553.8 L574.5,554.2 L574.8,554.7 L575.0,555.1 L575.3,555.6 L575.6,556.0 L575.9,556.4 L576.1,556.9 L576.4,557.3 L576.7,557.8 L576.9,558.2 L577.2,558.7 L577.5,559.1 L577.7,559.5 L578.0,560.0 L578.2,560.4 L578.5,560.8 L578.7,561.3 L579.0,561.7 L579.2,562.1 L579.5,562.5 L579.7,563.0 L580.0,563.4 L580.2,563.8 L580.5,564.2 L580.7,564.6 L580.9,565.0 L581.2,565.5 L581.4,565.9 L581.6,566.3 L581.9,566.7 L582.1,567.1 L582.3,567.5 L582.5,567.9 L582.8,568.3 L583.0,568.7 L583.2,569.1 L583.4,569.4 L583.6,569.8 L583.8,570.2 L584.0,570.6 L584.3,571.0 L584.5,571.3 L584.7,571.7 L584.9,572.1 L585.1,572.4 L585.3,572.8 L585.5,573.2 L585.7,573.5 L585.9,573.9 L586.0,574.2 L586.2,574.6 L586.4,574.9 L586.6,575.3 L586.8,575.6 L587.0,575.9 L587.2,576.3 L587.3,576.6 L587.5,576.9 L587.7,577.2 L587.9,577.6 L588.0,577.9 L588.2,578.2 L588.4,578.5 L588.6,578.8 L588.7,579.1 L588.9,579.4 L589.0,579.7 L589.2,580.0 L589.4,580.3 L589.5,580.6 L589.7,580.9 L589.8,581.2 L590.0,581.4 L590.1,581.7 L590.3,582.0 L590.4,582.3 L590.6,582.5 L590.7,582.8 L590.8,583.1 L591.0,583.3 L591.1,583.6 L591.2,583.9 L591.4,584.1 L591.5,584.4 L591.6,584.6 L591.8,584.9 L591.9,585.1 L592.0,585.4 L592.1,585.6 L592.2,585.9 L592.4,586.1 L592.5,586.4 L592.6,586.6 L592.7,586.9 L592.8,587.1 L592.9,587.3 L593.0,587.6 L593.1,587.8 L593.2,588.0 L593.3,588.3 L593.4,588.5 L593.5,588.7 L593.6,589.0 L593.7,589.2 L593.8,589.4 L593.9,589.6 L594.0,589.9 L594.1,590.1 L594.2,590.3 L594.3,590.6 L594.3,590.8 L594.4,591.0 L594.5,591.2 L594.6,591.5 L594.6,591.7 L594.7,591.9 L594.8,592.1 L594.9,592.3 L594.9,592.6 L595.0,592.8 L595.0,593.0 L595.1,593.2 L595.2,593.5 L595.2,593.7 L595.3,593.9 L595.3,594.1 L595.4,594.4 L595.4,594.6 L595.5,594.8 L595.5,595.0 L595.6,595.3 L595.6,595.5 L595.7,595.7 L595.7,595.9 L595.7,596.2 L595.8,596.4 L595.8,596.6 L595.8,596.9 L595.9,597.1 L595.9,597.3 L595.9,597.6 L595.9,597.8 L596.0,598.0 L596.0,598.3 L596.0,598.5 L596.0,598.8 L596.0,599.0 L596.1,599.2 L596.1,599.5 L596.1,599.7 L596.1,600.0 L596.1,600.2 L596.1,600.5 L596.1,600.7 L596.1,601.0" fill="none" stroke="#6ab33d" stroke-width="3.8" stroke-linejoin="round"/>
<path d="M118.0,270.2 L119.1,270.7 L120.2,271.1 L121.3,271.6 L122.4,272.0 L123.5,272.5 L124.6,272.9 L125.8,273.4 L126.9,273.8 L128.0,274.3 L129.1,274.7 L130.2,275.2 L131.3,275.7 L132.4,276.1 L133.5,276.6 L134.6,277.0 L135.7,277.5 L136.8,278.0 L137.9,278.4 L139.0,278.9 L140.2,279.4 L141.3,279.8 L142.4,280.3 L143.5,280.8 L144.6,281.2 L145.7,281.7 L146.8,282.2 L147.9,282.7 L149.0,283.1 L150.1,283.6 L151.2,284.1 L152.3,284.6 L153.4,285.0 L154.6,285.5 L155.7,286.0 L156.8,286.5 L157.9,286.9 L159.0,287.4 L160.1,287.9 L161.2,288.4 L162.3,288.9 L163.4,289.4 L164.5,289.9 L165.6,290.3 L166.7,290.8 L167.8,291.3 L169.0,291.8 L170.1,292.3 L171.2,292.8 L172.3,293.3 L173.4,293.8 L174.5,294.3 L175.6,294.8 L176.7,295.3 L177.8,295.7 L178.9,296.2 L180.0,296.7 L181.1,297.2 L182.3,297.7 L183.4,298.2 L184.5,298.7 L185.6,299.2 L186.7,299.7 L187.8,300.2 L188.9,300.7 L190.0,301.2 L191.1,301.8 L192.2,302.3 L193.3,302.8 L194.4,303.3 L195.5,303.8 L196.7,304.3 L197.8,304.8 L198.9,305.3 L200.0,305.8 L201.1,306.3 L202.2,306.8 L203.3,307.3 L204.4,307.8 L205.5,308.4 L206.6,308.9 L207.7,309.4 L208.8,309.9 L209.9,310.4 L211.1,310.9 L212.2,311.4 L213.3,312.0 L214.4,312.5 L215.5,313.0 L216.6,313.5 L217.7,314.0 L218.8,314.6 L219.9,315.1 L221.0,315.6 L222.1,316.1 L223.2,316.6 L224.3,317.1 L225.5,317.7 L226.6,318.2 L227.7,318.7 L228.8,319.2 L229.9,319.8 L231.0,320.3 L232.1,320.8 L233.2,321.3 L234.3,321.9 L235.4,322.4 L236.5,322.9 L237.6,323.4 L238.7,324.0 L239.9,324.5 L241.0,325.0 L242.1,325.5 L243.2,326.1 L244.3,326.6 L245.4,327.1 L246.5,327.6 L247.6,328.2 L248.7,328.7 L249.8,329.2 L250.9,329.8 L252.0,330.3 L253.1,330.8 L254.3,331.3 L255.4,331.9 L256.5,332.4 L257.6,332.9 L258.7,333.5 L259.8,334.0 L260.9,334.5 L262.0,335.0 L263.1,335.6 L264.2,336.1 L265.3,336.6 L266.4,337.2 L267.5,337.7 L268.7,338.2 L269.8,338.7 L270.9,339.3 L272.0,339.8 L273.1,340.3 L274.2,340.9 L275.3,341.4 L276.4,341.9 L277.5,342.4 L278.6,343.0 L279.7,343.5 L280.8,344.0 L281.9,344.6 L283.1,345.1 L284.2,345.6 L285.3,346.1 L286.4,346.7 L287.5,347.2 L288.6,347.7 L289.7,348.3 L290.8,348.8 L291.2,349.0" fill="none" stroke="#2b48a3" stroke-width="3.8" stroke-linecap="round" stroke-dasharray="10.2 11.55" stroke-dashoffset="5.09"/>
<path d="M291.2,349.0 L291.9,349.3 L293.0,349.9 L294.1,350.4 L295.2,350.9 L296.4,351.5 L297.5,352.0 L298.6,352.5 L299.7,353.0 L300.8,353.6 L301.9,354.1 L303.0,354.6 L304.1,355.2 L305.2,355.7 L306.3,356.2 L307.4,356.8 L308.5,357.3 L309.6,357.9 L310.8,358.4 L311.9,358.9 L313.0,359.5 L314.1,360.0 L315.2,360.5 L316.3,361.1 L317.4,361.6 L318.5,362.2 L319.6,362.7 L320.7,363.3 L321.8,363.8 L322.9,364.3 L324.0,364.9 L325.2,365.4 L326.3,366.0 L327.4,366.5 L328.5,367.1 L329.6,367.6 L330.7,368.2 L331.8,368.7 L332.9,369.3 L334.0,369.8 L335.1,370.4 L336.2,371.0 L337.3,371.5 L338.4,372.1 L339.6,372.6 L340.7,373.2 L341.8,373.8 L342.9,374.3 L344.0,374.9 L345.1,375.4 L346.2,376.0 L347.3,376.6 L348.4,377.2 L349.5,377.7 L350.6,378.3 L351.7,378.9 L352.8,379.5 L354.0,380.0 L355.1,380.6 L356.2,381.2 L357.3,381.8 L358.4,382.4 L359.5,383.0 L360.6,383.5 L361.7,384.1 L362.8,384.7 L363.9,385.3 L365.0,385.9 L366.1,386.5 L367.2,387.1 L368.4,387.7 L369.5,388.3 L370.6,388.9 L371.7,389.6 L372.8,390.2 L373.9,390.8 L375.0,391.4 L376.1,392.0 L377.2,392.7 L378.3,393.3 L379.4,393.9 L380.5,394.5 L381.6,395.2 L382.8,395.8 L383.9,396.4 L385.0,397.1 L386.1,397.7 L387.2,398.4 L388.3,399.0 L389.4,399.7 L390.5,400.3 L391.6,401.0 L392.7,401.6 L393.8,402.3 L394.9,402.9 L396.1,403.6 L397.2,404.3 L398.3,404.9 L399.4,405.6 L400.5,406.3 L401.6,407.0 L402.7,407.6 L403.8,408.3 L404.9,409.0 L406.0,409.7 L407.1,410.4 L408.2,411.1 L409.3,411.8 L410.5,412.5 L411.6,413.1 L412.7,413.8 L413.8,414.6 L414.9,415.3 L416.0,416.0 L417.1,416.7 L418.2,417.4 L419.3,418.1 L420.4,418.8 L421.5,419.5 L422.6,420.3 L423.7,421.0 L424.9,421.7 L426.0,422.4 L427.1,423.2 L428.2,423.9 L429.3,424.7 L430.4,425.4 L431.5,426.1 L432.6,426.9 L433.7,427.6 L434.8,428.4 L435.9,429.1 L437.0,429.9 L438.1,430.7 L439.3,431.4 L440.4,432.2 L441.5,433.0 L442.6,433.7 L443.7,434.5 L444.8,435.3 L445.9,436.0 L447.0,436.8 L448.1,437.6 L449.2,438.4 L450.3,439.2 L451.4,440.0 L452.5,440.8 L453.7,441.6 L454.8,442.4 L455.9,443.2 L457.0,444.0 L458.1,444.8 L459.2,445.6 L460.3,446.4 L461.4,447.2 L462.5,448.0 L463.6,448.9 L464.7,449.7 L465.8,450.5 L466.9,451.3 L468.1,452.2 L469.2,453.0 L470.3,453.8 L471.4,454.7 L472.5,455.5 L473.6,456.4 L474.7,457.2 L475.8,458.1 L476.9,458.9 L478.0,459.8 L479.1,460.6 L480.2,461.5 L481.3,462.4 L482.5,463.2 L483.6,464.1 L484.7,465.0 L485.8,465.9 L486.9,466.7 L488.0,467.6 L489.1,468.5 L490.2,469.4 L491.3,470.3 L492.4,471.2 L493.5,472.1 L494.6,473.0 L495.7,473.9 L496.9,474.8 L498.0,475.7 L499.1,476.6 L500.2,477.6 L501.3,478.5 L502.4,479.4 L503.5,480.3 L504.6,481.3 L505.7,482.2 L506.8,483.1 L507.9,484.1 L509.0,485.0 L510.2,486.0 L511.3,486.9 L512.4,487.9 L513.5,488.8 L514.6,489.8 L515.7,490.8 L516.8,491.7 L517.9,492.7 L519.0,493.7 L520.1,494.6 L521.2,495.6 L522.3,496.6 L523.4,497.6 L524.6,498.6 L525.7,499.6 L526.8,500.6 L527.9,501.6 L529.0,502.6 L530.1,503.7 L531.2,504.7 L532.3,505.7 L533.4,506.8 L534.5,507.8 L535.6,508.9 L536.7,509.9 L537.8,511.0 L539.0,512.1 L540.1,513.2 L541.2,514.3 L542.3,515.4 L543.4,516.5 L544.5,517.7 L545.6,518.8 L546.7,520.0 L547.8,521.1 L548.9,522.3 L550.0,523.5 L551.1,524.7 L552.2,525.9 L553.4,527.2 L554.5,528.4 L555.6,529.7 L556.7,531.0 L557.8,532.3 L558.9,533.6 L560.0,535.0 L560.4,535.4 L560.7,535.9 L561.1,536.3 L561.4,536.7 L561.8,537.2 L562.1,537.6 L562.5,538.1 L562.8,538.5 L563.2,539.0 L563.5,539.4 L563.9,539.9 L564.2,540.3 L564.6,540.8 L564.9,541.2 L565.2,541.7 L565.6,542.1 L565.9,542.6 L566.2,543.0 L566.6,543.5 L566.9,543.9 L567.2,544.3 L567.5,544.8 L567.9,545.2 L568.2,545.7 L568.5,546.1 L568.8,546.6 L569.1,547.0 L569.4,547.4 L569.8,547.9 L570.1,548.3 L570.4,548.8 L570.7,549.2 L571.0,549.7 L571.3,550.1 L571.6,550.5 L571.9,551.0 L572.2,551.4 L572.5,551.8 L572.8,552.3 L573.1,552.7 L573.3,553.1 L573.6,553.6 L573.9,554.0 L574.2,554.4 L574.5,554.9 L574.8,555.3 L575.0,555.7 L575.3,556.1 L575.6,556.6 L575.9,557.0 L576.1,557.4 L576.4,557.8 L576.7,558.3 L576.9,558.7 L577.2,559.1 L577.5,559.5 L577.7,559.9 L578.0,560.3 L578.2,560.7 L578.5,561.2 L578.7,561.6 L579.0,562.0 L579.2,562.4 L579.5,562.8 L579.7,563.2 L580.0,563.6 L580.2,564.0 L580.5,564.4 L580.7,564.8 L580.9,565.2 L581.2,565.6 L581.4,566.0 L581.6,566.3 L581.9,566.7 L582.1,567.1 L582.3,567.5 L582.5,567.9 L582.8,568.3 L583.0,568.6 L583.2,569.0 L583.4,569.4 L583.6,569.8 L583.8,570.1 L584.0,570.5 L584.3,570.9 L584.5,571.2 L584.7,571.6 L584.9,571.9 L585.1,572.3 L585.3,572.6 L585.5,573.0 L585.7,573.3 L585.9,573.7 L586.0,574.0 L586.2,574.4 L586.4,574.7 L586.6,575.0 L586.8,575.4 L587.0,575.7 L587.2,576.0 L587.3,576.4 L587.5,576.7 L587.7,577.0 L587.9,577.3 L588.0,577.6 L588.2,578.0 L588.4,578.3 L588.6,578.6 L588.7,578.9 L588.9,579.2 L589.0,579.5 L589.2,579.8 L589.4,580.1 L589.5,580.4 L589.7,580.7 L589.8,581.0 L590.0,581.3 L590.1,581.5 L590.3,581.8 L590.4,582.1 L590.6,582.4 L590.7,582.7 L590.8,582.9 L591.0,583.2 L591.1,583.5 L591.2,583.8 L591.4,584.0 L591.5,584.3 L591.6,584.6 L591.8,584.8 L591.9,585.1 L592.0,585.4 L592.1,585.6 L592.2,585.9 L592.4,586.1 L592.5,586.4 L592.6,586.6 L592.7,586.9 L592.8,587.1 L592.9,587.4 L593.0,587.6 L593.1,587.9 L593.2,588.1 L593.3,588.4 L593.4,588.6 L593.5,588.9 L593.6,589.1 L593.7,589.3 L593.8,589.6 L593.9,589.8 L594.0,590.1 L594.1,590.3 L594.2,590.5 L594.3,590.8 L594.3,591.0 L594.4,591.2 L594.5,591.5 L594.6,591.7 L594.6,591.9 L594.7,592.2 L594.8,592.4 L594.9,592.6 L594.9,592.8 L595.0,593.1 L595.0,593.3 L595.1,593.5 L595.2,593.8 L595.2,594.0 L595.3,594.2 L595.3,594.4 L595.4,594.7 L595.4,594.9 L595.5,595.1 L595.5,595.3 L595.6,595.6 L595.6,595.8 L595.7,596.0 L595.7,596.2 L595.7,596.5 L595.8,596.7 L595.8,596.9 L595.8,597.1 L595.9,597.4 L595.9,597.6 L595.9,597.8 L595.9,598.0 L596.0,598.3 L596.0,598.5 L596.0,598.7 L596.0,598.9 L596.0,599.2 L596.1,599.4 L596.1,599.6 L596.1,599.8 L596.1,600.1 L596.1,600.3 L596.1,600.5 L596.1,600.8 L596.1,601.0" fill="none" stroke="#2b48a3" stroke-width="3.8" stroke-linejoin="round"/>
<text transform="translate(230.40,49.80) scale(0.72,1)" font-size="25" font-weight="bold" fill="#1e1e1e" stroke="#1e1e1e" stroke-width="0" textLength="402.92" lengthAdjust="spacing">Current-carrying capacity curve</text>
<text transform="translate(179.10,78.50) scale(0.82,1)" font-size="23.5" font-weight="normal" fill="#1e1e1e" stroke="#1e1e1e" stroke-width="0.7" textLength="477.80" lengthAdjust="spacing">PCB terminal block (2626-31xx/0020-0000)</text>
<text transform="translate(111.20,107.20) scale(0.82,1)" font-size="24.5" font-weight="normal" fill="#1e1e1e" stroke="#1e1e1e" stroke-width="0.7" textLength="576.59" lengthAdjust="spacing">Pin spacing: 7.5 mm / Conductor cross-section: 10 mm</text>
<text transform="translate(586.20,98.20) scale(0.82,1)" font-size="12.5" font-weight="normal" fill="#1e1e1e" stroke="#1e1e1e" stroke-width="0.6" textLength="7.80" lengthAdjust="spacing">2</text>
<text transform="translate(597.50,107.20) scale(0.82,1)" font-size="24.5" font-weight="normal" fill="#1e1e1e" stroke="#1e1e1e" stroke-width="0.7" textLength="52.32" lengthAdjust="spacing">"f-st"</text>
<text transform="translate(174.40,136.00) scale(0.82,1)" font-size="23.5" font-weight="normal" fill="#1e1e1e" stroke="#1e1e1e" stroke-width="0.7" textLength="487.44" lengthAdjust="spacing">Based on: EN 60512-5-2 / Reduction factor: 1</text>
<text transform="translate(88.00,179.80) scale(0.82,1)" font-size="24.5" font-weight="normal" fill="#1e1e1e" stroke="#1e1e1e" stroke-width="0.7" textLength="129.15" lengthAdjust="spacing">Current in A</text>
<text transform="translate(102.40,614.50) scale(0.66,1)" font-size="24.5" font-weight="normal" fill="#1e1e1e" stroke="#1e1e1e" stroke-width="0.5" textLength="13.94" lengthAdjust="spacing">0</text>
<text transform="translate(90.70,565.67) scale(0.66,1)" font-size="24.5" font-weight="normal" fill="#1e1e1e" stroke="#1e1e1e" stroke-width="0.5" textLength="29.39" lengthAdjust="spacing">10</text>
<text transform="translate(90.70,521.84) scale(0.66,1)" font-size="24.5" font-weight="normal" fill="#1e1e1e" stroke="#1e1e1e" stroke-width="0.5" textLength="29.39" lengthAdjust="spacing">20</text>
<text transform="translate(90.70,478.01) scale(0.66,1)" font-size="24.5" font-weight="normal" fill="#1e1e1e" stroke="#1e1e1e" stroke-width="0.5" textLength="29.39" lengthAdjust="spacing">30</text>
<text transform="translate(90.70,434.18) scale(0.66,1)" font-size="24.5" font-weight="normal" fill="#1e1e1e" stroke="#1e1e1e" stroke-width="0.5" textLength="29.39" lengthAdjust="spacing">40</text>
<text transform="translate(90.70,390.35) scale(0.66,1)" font-size="24.5" font-weight="normal" fill="#1e1e1e" stroke="#1e1e1e" stroke-width="0.5" textLength="29.39" lengthAdjust="spacing">50</text>
<text transform="translate(90.70,346.52) scale(0.66,1)" font-size="24.5" font-weight="normal" fill="#1e1e1e" stroke="#1e1e1e" stroke-width="0.5" textLength="29.39" lengthAdjust="spacing">60</text>
<text transform="translate(90.70,302.69) scale(0.66,1)" font-size="24.5" font-weight="normal" fill="#1e1e1e" stroke="#1e1e1e" stroke-width="0.5" textLength="29.39" lengthAdjust="spacing">70</text>
<text transform="translate(90.70,258.86) scale(0.66,1)" font-size="24.5" font-weight="normal" fill="#1e1e1e" stroke="#1e1e1e" stroke-width="0.5" textLength="29.39" lengthAdjust="spacing">80</text>
<text transform="translate(90.70,215.03) scale(0.66,1)" font-size="24.5" font-weight="normal" fill="#1e1e1e" stroke="#1e1e1e" stroke-width="0.5" textLength="29.39" lengthAdjust="spacing">90</text>
<text transform="translate(154.75,625.00) scale(0.66,1)" font-size="24.5" font-weight="normal" fill="#1e1e1e" stroke="#1e1e1e" stroke-width="0.5" textLength="27.73" lengthAdjust="spacing">10</text>
<text transform="translate(200.25,625.00) scale(0.66,1)" font-size="24.5" font-weight="normal" fill="#1e1e1e" stroke="#1e1e1e" stroke-width="0.5" textLength="27.73" lengthAdjust="spacing">20</text>
<text transform="translate(245.75,625.00) scale(0.66,1)" font-size="24.5" font-weight="normal" fill="#1e1e1e" stroke="#1e1e1e" stroke-width="0.5" textLength="27.73" lengthAdjust="spacing">30</text>
<text transform="translate(291.25,625.00) scale(0.66,1)" font-size="24.5" font-weight="normal" fill="#1e1e1e" stroke="#1e1e1e" stroke-width="0.5" textLength="27.73" lengthAdjust="spacing">40</text>
<text transform="translate(336.75,625.00) scale(0.66,1)" font-size="24.5" font-weight="normal" fill="#1e1e1e" stroke="#1e1e1e" stroke-width="0.5" textLength="27.73" lengthAdjust="spacing">50</text>
<text transform="translate(382.25,625.00) scale(0.66,1)" font-size="24.5" font-weight="normal" fill="#1e1e1e" stroke="#1e1e1e" stroke-width="0.5" textLength="27.73" lengthAdjust="spacing">60</text>
<text transform="translate(427.75,625.00) scale(0.66,1)" font-size="24.5" font-weight="normal" fill="#1e1e1e" stroke="#1e1e1e" stroke-width="0.5" textLength="27.73" lengthAdjust="spacing">70</text>
<text transform="translate(473.25,625.00) scale(0.66,1)" font-size="24.5" font-weight="normal" fill="#1e1e1e" stroke="#1e1e1e" stroke-width="0.5" textLength="27.73" lengthAdjust="spacing">80</text>
<text transform="translate(518.75,625.00) scale(0.66,1)" font-size="24.5" font-weight="normal" fill="#1e1e1e" stroke="#1e1e1e" stroke-width="0.5" textLength="27.73" lengthAdjust="spacing">90</text>
<text transform="translate(559.50,625.00) scale(0.66,1)" font-size="24.5" font-weight="normal" fill="#1e1e1e" stroke="#1e1e1e" stroke-width="0.5" textLength="42.12" lengthAdjust="spacing">100</text>
<text transform="translate(605.00,625.00) scale(0.66,1)" font-size="24.5" font-weight="normal" fill="#1e1e1e" stroke="#1e1e1e" stroke-width="0.5" textLength="42.12" lengthAdjust="spacing">110</text>
<text transform="translate(650.50,625.00) scale(0.66,1)" font-size="24.5" font-weight="normal" fill="#1e1e1e" stroke="#1e1e1e" stroke-width="0.5" textLength="42.12" lengthAdjust="spacing">120</text>
<text transform="translate(340.20,655.50) scale(0.82,1)" font-size="24.5" font-weight="normal" fill="#1e1e1e" stroke="#1e1e1e" stroke-width="0.7" textLength="395.61" lengthAdjust="spacing">Ambient operating temperature in °C</text>
<text transform="translate(117.30,715.00) scale(0.82,1)" font-size="23.5" font-weight="normal" fill="#ee3a24" stroke="#ee3a24" stroke-width="0.7" textLength="28.90" lengthAdjust="spacing">2-,</text>
<text transform="translate(146.00,715.00) scale(0.82,1)" font-size="23.5" font-weight="normal" fill="#7fc7c9" stroke="#7fc7c9" stroke-width="0.7" textLength="26.83" lengthAdjust="spacing">4-,</text>
<text transform="translate(175.00,715.00) scale(0.82,1)" font-size="23.5" font-weight="normal" fill="#6ab33d" stroke="#6ab33d" stroke-width="0.7" textLength="29.27" lengthAdjust="spacing">6-,</text>
<text transform="translate(205.30,715.00) scale(0.82,1)" font-size="23.5" font-weight="normal" fill="#2b48a3" stroke="#2b48a3" stroke-width="0.7" textLength="33.66" lengthAdjust="spacing">12-</text>
<text transform="translate(243.30,715.00) scale(0.82,1)" font-size="23.5" font-weight="normal" fill="#1e1e1e" stroke="#1e1e1e" stroke-width="0.7" textLength="45.61" lengthAdjust="spacing">pole</text>
<text transform="translate(452.00,715.00) scale(0.82,1)" font-size="23.5" font-weight="normal" fill="#1e1e1e" stroke="#1e1e1e" stroke-width="0.7" textLength="259.39" lengthAdjust="spacing">Conductor rated current</text>
<line x1="407.7" y1="709.3" x2="443.3" y2="709.3" stroke="#ee7d28" stroke-width="4"/>
</svg>
</body></html>
